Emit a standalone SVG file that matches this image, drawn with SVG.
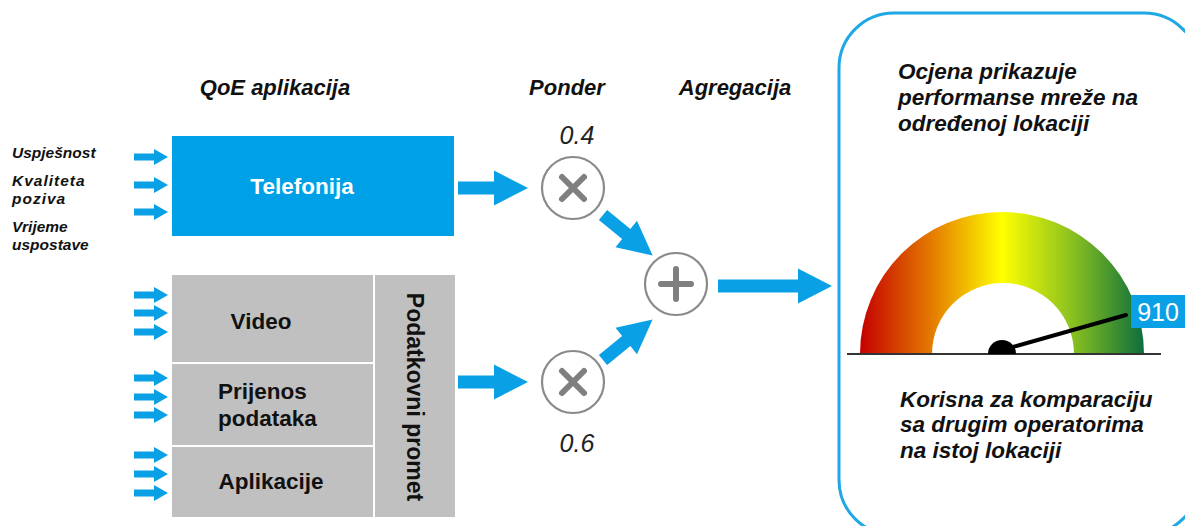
<svg xmlns="http://www.w3.org/2000/svg" xmlns:xlink="http://www.w3.org/1999/xlink" width="1185" height="526" viewBox="0 0 1185 526">
<style>
.bi{font-family:"Liberation Sans",Arial,sans-serif;font-weight:bold;font-style:italic;fill:#111}
.b{font-family:"Liberation Sans",Arial,sans-serif;font-weight:bold;fill:#111}
.it{font-family:"Liberation Sans",Arial,sans-serif;font-style:italic;fill:#222}
.arr{fill:#0aa0e6}
.op{fill:#fff;stroke:#8a8a8a;stroke-width:2.2}
.sym{stroke:#7f7f7f;stroke-width:6;stroke-linecap:round;fill:none}
.grey{fill:#c0c0c0}
</style>
<defs>
<polygon id="sa" class="arr" points="0,-3.5 20,-3.5 20,-8 34,0 20,8 20,3.5 0,3.5"/>
<linearGradient id="gg" x1="860" y1="0" x2="1144" y2="0" gradientUnits="userSpaceOnUse">
<stop offset="0" stop-color="#c40000"/>
<stop offset="0.25" stop-color="#e47a00"/>
<stop offset="0.5" stop-color="#ffff00"/>
<stop offset="0.75" stop-color="#88c020"/>
<stop offset="1" stop-color="#0c6e3c"/>
</linearGradient>
</defs>
<rect width="1185" height="526" fill="#fff"/>

<text class="bi" x="275" y="95" font-size="22" text-anchor="middle">QoE aplikacija</text>
<text class="bi" x="567" y="95" font-size="22" text-anchor="middle">Ponder</text>
<text class="bi" x="735" y="95" font-size="22" text-anchor="middle">Agregacija</text>

<g id="inputs-labels">
<text class="bi" x="12" y="158" font-size="15.5">Uspješnost</text>
<text class="bi" x="12" y="186" font-size="15.5" letter-spacing="1">Kvaliteta</text>
<text class="bi" x="12" y="204" font-size="15.5" letter-spacing="1">poziva</text>
<text class="bi" x="12" y="232" font-size="15.5">Vrijeme</text>
<text class="bi" x="12" y="250" font-size="15.5">uspostave</text>
</g>

<g id="telefonija">
<rect x="172" y="136" width="282" height="100" fill="#00a0e6"/>
<text class="b" x="302" y="194" font-size="22.5" text-anchor="middle" style="fill:#fff">Telefonija</text>
</g>

<g id="video">
<rect class="grey" x="172" y="275" width="201" height="87"/>
<text class="b" x="261" y="329" font-size="22.5" text-anchor="middle">Video</text>
</g>
<g id="prijenos">
<rect class="grey" x="172" y="364" width="201" height="81"/>
<text class="b" x="218" y="399" font-size="22.5">Prijenos</text>
<text class="b" x="218" y="426" font-size="22.5">podataka</text>
</g>
<g id="aplikacije">
<rect class="grey" x="172" y="447" width="201" height="70"/>
<text class="b" x="271" y="489" font-size="22.5" text-anchor="middle">Aplikacije</text>
</g>
<g id="podatkovni">
<rect class="grey" x="375" y="275" width="80" height="242"/>
<text class="b" x="0" y="0" font-size="23" text-anchor="middle" transform="translate(407,397) rotate(90)">Podatkovni promet</text>
</g>

<g id="mul-top">
<circle class="op" cx="573" cy="188" r="31"/>
<path class="sym" d="M562,177 L584,199 M584,177 L562,199"/>
<text class="it" x="577" y="144" font-size="25" text-anchor="middle">0.4</text>
</g>
<g id="mul-bottom">
<circle class="op" cx="573" cy="382" r="31"/>
<path class="sym" d="M562,371 L584,393 M584,371 L562,393"/>
<text class="it" x="577" y="452" font-size="25" text-anchor="middle">0.6</text>
</g>
<g id="sum">
<circle class="op" cx="676" cy="284" r="31"/>
<path class="sym" d="M661,284 L691,284 M676,269 L676,299"/>
</g>

<g id="connectors">
<use href="#sa" x="134" y="157"/>
<use href="#sa" x="134" y="185"/>
<use href="#sa" x="134" y="212"/>
<use href="#sa" x="134" y="295"/>
<use href="#sa" x="134" y="313"/>
<use href="#sa" x="134" y="332"/>
<use href="#sa" x="134" y="378"/>
<use href="#sa" x="134" y="397"/>
<use href="#sa" x="134" y="415"/>
<use href="#sa" x="134" y="455"/>
<use href="#sa" x="134" y="474"/>
<use href="#sa" x="134" y="493"/>
<polygon class="arr" points="458,181.5 494,181.5 494,170.5 528,188 494,205.5 494,194.5 458,194.5"/>
<polygon class="arr" points="458,375.5 494,375.5 494,364.5 528,382 494,399.5 494,388.5 458,388.5"/>
<polygon class="arr" transform="translate(603,215) rotate(39.2)" points="0,-6.5 30,-6.5 30,-17 64,0 30,17 30,6.5 0,6.5"/>
<polygon class="arr" transform="translate(603,360) rotate(-39.2)" points="0,-6.5 30,-6.5 30,-17 64,0 30,17 30,6.5 0,6.5"/>
<polygon class="arr" points="718,279.5 798,279.5 798,268.5 832,286 798,303.5 798,292.5 718,292.5"/>
</g>

<g id="result">
<rect x="839" y="13" width="360" height="522" rx="55" ry="55" fill="#fff" stroke="#20a8e6" stroke-width="3"/>
<text class="bi" x="898" y="79" font-size="22.5">Ocjena prikazuje</text>
<text class="bi" x="898" y="105" font-size="22.5">performanse mreže na</text>
<text class="bi" x="898" y="131" font-size="22.5">određenoj lokaciji</text>
<path d="M860,354 A142,142 0 0 1 1144,354 L1074,354 A71,71 0 0 0 932,354 Z" fill="url(#gg)"/>
<line x1="847" y1="354" x2="1161" y2="354" stroke="#333" stroke-width="2"/>
<path d="M988,354 A14,14 0 0 1 1016,354 Z" fill="#000"/>
<line x1="1002" y1="350" x2="1126" y2="315" stroke="#000" stroke-width="4" stroke-linecap="round"/>
<rect x="1131" y="295" width="56" height="33" fill="#0aa0e6"/>
<text x="1158" y="321" font-size="25" text-anchor="middle" font-family="Liberation Sans,Arial,sans-serif" fill="#fff">910</text>
<text class="bi" x="900" y="407" font-size="22.5">Korisna za komparaciju</text>
<text class="bi" x="900" y="432" font-size="22.5">sa drugim operatorima</text>
<text class="bi" x="900" y="458" font-size="22.5">na istoj lokaciji</text>
</g>
</svg>
